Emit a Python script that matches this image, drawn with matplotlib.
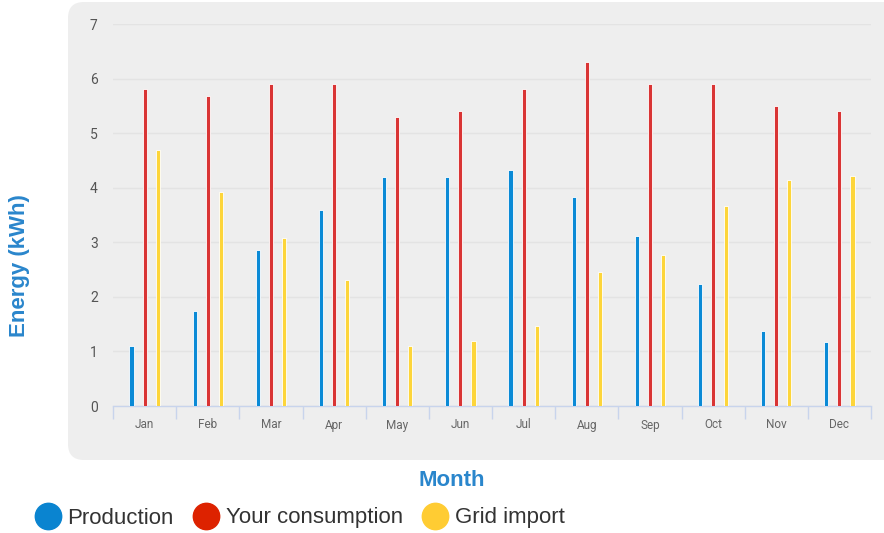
import matplotlib.pyplot as plt
import numpy as np
from matplotlib.patches import FancyBboxPatch
from matplotlib.lines import Line2D

months = ["Jan", "Feb", "Mar", "Apr", "May", "Jun", "Jul", "Aug", "Sep", "Oct", "Nov", "Dec"]
production = [1.10, 1.75, 2.85, 3.60, 4.20, 4.20, 4.33, 3.83, 3.12, 2.23, 1.37, 1.17]
consumption = [5.80, 5.68, 5.90, 5.90, 5.30, 5.40, 5.80, 6.30, 5.90, 5.90, 5.50, 5.40]
grid_import = [4.70, 3.92, 3.07, 2.30, 1.10, 1.20, 1.47, 2.46, 2.76, 3.66, 4.14, 4.22]
yticks = [0, 1, 2, 3, 4, 5, 6, 7]

W, H = 884, 533
fig = plt.figure(figsize=(W / 100, H / 100), dpi=100)
fig.patch.set_facecolor("white")

# rounded panel in a background axes
bg = fig.add_axes([0, 0, 1, 1], zorder=0)
bg.set_axis_off()
bg.set_xlim(0, W)
bg.set_ylim(H, 0)
panel = FancyBboxPatch((68, 2), W + 30 - 68, 458,
                       boxstyle="round,pad=0,rounding_size=16",
                       facecolor="#eeeeee", edgecolor="none")
bg.add_patch(panel)

ax = fig.add_axes([113 / W, 1 - 406 / H, (871 - 113) / W, (406 - 24) / H], zorder=1)
ax.set_facecolor("none")

x = np.arange(len(months))
off = 13 / 63
bw = 0.065
ax.bar(x - off, production, width=bw, color="#0a8ad6", edgecolor="white", linewidth=0.6, zorder=3)
ax.bar(x, consumption, width=bw, color="#d93434", edgecolor="white", linewidth=0.6, zorder=3)
ax.bar(x + off, grid_import, width=bw, color="#fdd53a", edgecolor="white", linewidth=0.6, zorder=3)

ax.set_xlim(-0.5, len(months) - 0.5)
ax.set_ylim(0, 7)
ax.set_yticks(yticks)
ax.set_yticklabels([str(v) for v in yticks], fontsize=10, color="#555555", family="Roboto")
ax.yaxis.grid(True, color="#e3e3e3", linewidth=1, zorder=0)
ax.tick_params(axis="y", length=0, pad=11)

ax.set_xticks(x)
ax.set_xticklabels(months, fontsize=8.5, color="#666666", family="Roboto")
ax.set_xticks(np.arange(-0.5, len(months)), minor=True)
ax.tick_params(axis="x", which="major", length=0, pad=9)
ax.tick_params(axis="x", which="minor", length=9, color="#c8d4ec", width=1, direction="out")

for s in ["top", "right", "left"]:
    ax.spines[s].set_visible(False)
ax.spines["bottom"].set_color("#c8d4ec")
ax.spines["bottom"].set_linewidth(1)

fig.text(20 / W, 1 - 266 / H, "Energy (kWh)", rotation=90, ha="center", va="center",
         fontsize=16, fontweight="bold", color="#2a86cc", family="Liberation Sans")
fig.text(452 / W, 1 - 480 / H, "Month", ha="center", va="center",
         fontsize=16, fontweight="bold", color="#2a86cc", family="Liberation Sans")

handles = [Line2D([], [], marker="o", linestyle="none", markersize=19, color=c)
           for c in ["#0a84d0", "#dd2200", "#ffcc33"]]
leg = fig.legend(handles, ["Production", "Your consumption", "Grid import"],
                 loc="center left", bbox_to_anchor=(30 / W, 1 - 518 / H), ncol=3,
                 frameon=False, prop={"family": "Liberation Sans", "size": 16},
                 handletextpad=0.08, columnspacing=0.66, handlelength=1.6, borderaxespad=0,
                 borderpad=0)
for t in leg.get_texts():
    t.set_color("#333333")

fig.savefig("out.png", dpi=100)
